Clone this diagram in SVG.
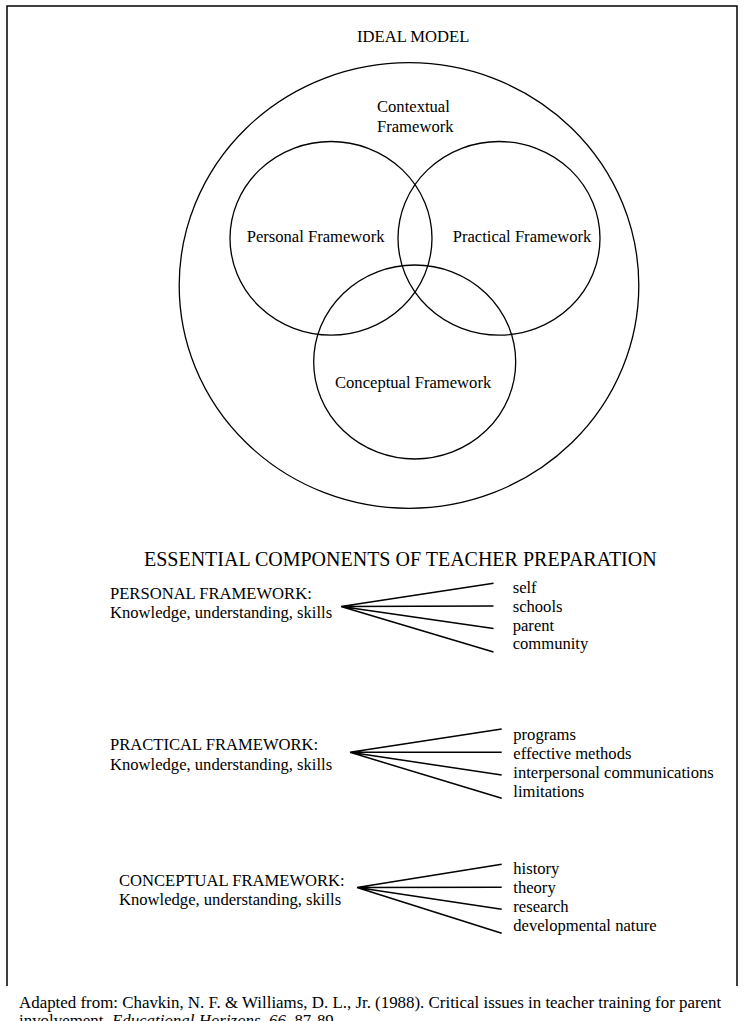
<svg xmlns="http://www.w3.org/2000/svg" width="744" height="1021" viewBox="0 0 744 1021">
<style>
text{font-family:"Liberation Serif","Times New Roman",serif;font-size:16.6px;fill:#000}
.ring{fill:none;stroke:#000;stroke-width:1.3}
.fan{fill:none;stroke:#000;stroke-width:1.5}
.head{font-size:20px}
.foot{font-size:16.9px}
</style>
<rect x="0" y="0" width="744" height="1021" fill="#fff"/>
<path d="M7,986 V6 H737 V986" fill="none" stroke="#000" stroke-width="1.5"/>
<text x="357" y="42">IDEAL MODEL</text>
<g id="contextual">
<ellipse class="ring" cx="409" cy="285.5" rx="229.8" ry="222.8"/>
<text x="377" y="112">Contextual</text>
<text x="377" y="132">Framework</text>
</g>
<g id="personal">
<ellipse class="ring" cx="331" cy="238.3" rx="101" ry="96.8"/>
<text x="246.7" y="241.7">Personal Framework</text>
</g>
<g id="practical">
<ellipse class="ring" cx="499" cy="238.3" rx="101" ry="96.8"/>
<text x="452.7" y="241.7">Practical Framework</text>
</g>
<g id="conceptual">
<ellipse class="ring" cx="414.7" cy="362" rx="101" ry="97"/>
<text x="335" y="387.7">Conceptual Framework</text>
</g>
<text class="head" x="144" y="566">ESSENTIAL COMPONENTS OF TEACHER PREPARATION</text>
<g id="personal-list">
<text x="110" y="599">PERSONAL FRAMEWORK:</text>
<text x="110" y="617.5">Knowledge, understanding, skills</text>
<text x="512.7" y="593.3">self</text>
<text x="512.7" y="611.7">schools</text>
<text x="512.7" y="630.7">parent</text>
<text x="512.7" y="649">community</text>
</g>
<g id="practical-list">
<text x="110" y="750">PRACTICAL FRAMEWORK:</text>
<text x="110" y="769.5">Knowledge, understanding, skills</text>
<text x="513.3" y="740">programs</text>
<text x="513.3" y="758.5">effective methods</text>
<text x="513.3" y="777.7">interpersonal communications</text>
<text x="513.3" y="796.7">limitations</text>
</g>
<g id="conceptual-list">
<text x="119" y="886">CONCEPTUAL FRAMEWORK:</text>
<text x="119" y="905">Knowledge, understanding, skills</text>
<text x="513.3" y="874.3">history</text>
<text x="513.3" y="892.5">theory</text>
<text x="513.3" y="911.7">research</text>
<text x="513.3" y="931">developmental nature</text>
</g>
<g id="connectors">
<path class="fan" d="M341,606.5 L493.5,583.3 M341,606.5 L493.5,606 M341,606.5 L493.5,628.5 M341,606.5 L493.5,652"/>
<path class="fan" d="M350,752.3 L501.7,729 M350,752.3 L501.7,752.3 M350,752.3 L501.7,775 M350,752.3 L501.7,798.3"/>
<path class="fan" d="M357,887.5 L501.7,864.3 M357,887.5 L501.7,887.3 M357,887.5 L501.7,909.3 M357,887.5 L501.7,933.3"/>
</g>
<text class="foot" x="19" y="1008">Adapted from: Chavkin, N. F. &amp; Williams, D. L., Jr. (1988). Critical issues in teacher training for parent</text>
<text class="foot" x="19" y="1026">involvement. <tspan font-style="italic">Educational Horizons, 66</tspan>, 87-89.</text>
</svg>
